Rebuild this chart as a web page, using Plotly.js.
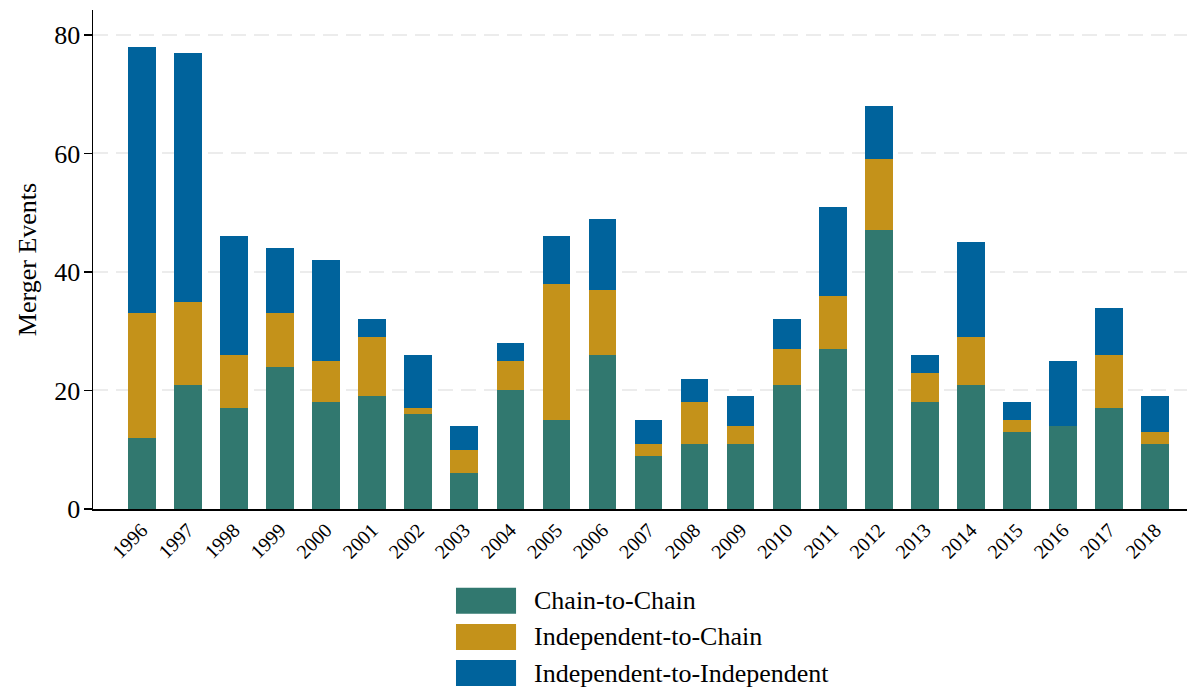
<!DOCTYPE html>
<html>
<head>
<meta charset="utf-8">
<script src="https://cdn.plot.ly/plotly-3.0.1.min.js"></script>
<style>html,body{margin:0;padding:0;background:#fff;}#chart{width:1197px;height:691px;}</style>
</head>
<body>
<div id="chart"></div>
<script>
const years = ["1996","1997","1998","1999","2000","2001","2002","2003","2004","2005","2006","2007","2008","2009","2010","2011","2012","2013","2014","2015","2016","2017","2018"];
const chainToChain = [12,21,17,24,18,19,16,6,20,15,26,9,11,11,21,27,47,18,21,13,14,17,11];
const independentToChain = [21,14,9,9,7,10,1,4,5,23,11,2,7,3,6,9,12,5,8,2,0,9,2];
const independentToIndependent = [45,42,20,11,17,3,9,4,3,8,12,4,4,5,5,15,9,3,16,3,11,8,6];
const seriesNames = ["Chain-to-Chain","Independent-to-Chain","Independent-to-Independent"];
const seriesColors = ["#31786f","#c4921a","#00639c"];
const yTicks = [0,20,40,60,80];

const font = "Liberation Serif";
const allValues = [chainToChain, independentToChain, independentToIndependent];
const traces = allValues.map((vals, i) => ({
  type: "bar", x: years, y: vals, name: seriesNames[i],
  marker: {color: seriesColors[i], line: {width: 0}},
  width: 0.6, showlegend: false, hoverinfo: "x+y+name"
}));

// custom legend (swatches + labels) below plot
const shapes = [];
const annotations = [];
const rowY = [-0.184, -0.2565, -0.3287];
const swH = 0.026; // half-height in paper units (~13px)
seriesNames.forEach((n, i) => {
  shapes.push({type: "rect", xref: "paper", yref: "paper",
    x0: 0.3318, x1: 0.3867, y0: rowY[i] - swH, y1: rowY[i] + swH,
    fillcolor: seriesColors[i], line: {width: 0}});
  annotations.push({xref: "paper", yref: "paper", x: 0.4013, y: rowY[i],
    xanchor: "left", yanchor: "middle", showarrow: false, text: n,
    font: {family: font, size: 26, color: "#000"}});
});

const layout = {
  width: 1197, height: 691,
  margin: {l: 93, r: 10, t: 10, b: 182},
  paper_bgcolor: "#fff", plot_bgcolor: "#fff",
  barmode: "stack",
  bargap: 0.4,
  font: {family: font, color: "#000"},
  xaxis: {
    type: "category", range: [-1.06, 22.69],
    showline: true, linecolor: "#000", linewidth: 1.5,
    ticks: "", tickangle: -45, tickfont: {family: font, size: 20, color: "#000"},
    showgrid: false, zeroline: false, fixedrange: true, automargin: false
  },
  yaxis: {
    range: [0, 84.2], tickvals: yTicks, ticktext: yTicks.map(String),
    showline: true, linecolor: "#000", linewidth: 1.5,
    ticks: "outside", ticklen: 8, tickwidth: 1.5, tickcolor: "#000",
    tickfont: {family: font, size: 26, color: "#000"}, ticklabelstandoff: -2,
    showgrid: true, gridcolor: "#ececec", gridwidth: 2, griddash: "15px,8px",
    zeroline: false, automargin: false,
    title: {text: "Merger Events", font: {family: font, size: 26, color: "#000"}, standoff: 10}
  },
  shapes: shapes,
  annotations: annotations,
  showlegend: false
};

Plotly.newPlot("chart", traces, layout, {displayModeBar: false, staticPlot: true});
</script>
</body>
</html>
